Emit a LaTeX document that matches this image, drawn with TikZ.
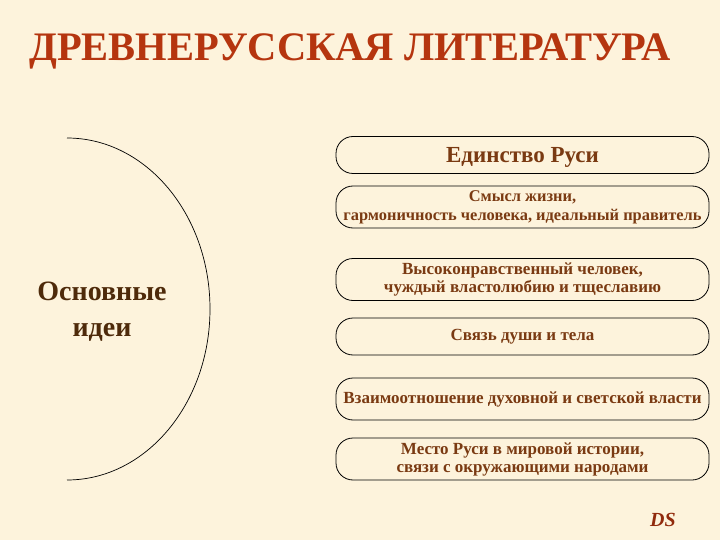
\documentclass[tikz,border=0pt]{standalone}
\usepackage{fontspec}
\setmainfont{Liberation Serif}
\usetikzlibrary{positioning}
\definecolor{paper}{HTML}{FDF3DC}
\definecolor{titlered}{HTML}{B5350F}
\definecolor{ideabrown}{HTML}{7A3A12}
\definecolor{mainbrown}{HTML}{4E2A0A}

\begin{document}
\begin{tikzpicture}[x=1pt,y=-1pt]
	\tikzset{
	  basic/.style      = {draw=black, line width=0.8pt, rounded corners=17pt, minimum width=373pt,
	                       inner xsep=0pt, inner ysep=1pt, align=center, text=ideabrown,
	                       font=\fontsize{17}{18}\selectfont\bfseries},
	  idea short/.style = {basic, minimum height=37pt},
	  idea tall/.style  = {basic, minimum height=42pt}
	}
	% the slide
	\fill[paper] (0,0) rectangle (720,540);
	\useasboundingbox (0,0) rectangle (720,540);

	\node[anchor=base west, inner sep=0pt, text=titlered,
	      font=\fontsize{40.5}{42}\selectfont\bfseries] (title) at (29,61)
	      {ДРЕВНЕРУССКАЯ ЛИТЕРАТУРА};

	% the half-ellipse with its caption
	\draw[line width=0.7pt] (67,138) arc[start angle=-90, end angle=90, x radius=143, y radius=171];
	\node[align=center, text=mainbrown,
	      font=\fontsize{28}{36}\selectfont\bfseries] (main) at (102,312) {Основные\\идеи};

	% the ideas, top to bottom
	\node[idea short, text depth=0pt, font=\fontsize{23}{26}\selectfont\bfseries] (unity) at (522.5,155) {Единство Руси};
	\node[idea tall, font=\fontsize{16.4}{19}\selectfont\bfseries] (sense) at (522.5,207) {Смысл жизни,\\гармоничность человека, идеальный правитель};
	\node[idea tall] (moral) at (522.5,279.5) {Высоконравственный человек,\\чуждый властолюбию и тщеславию};
	\node[idea short] (soul) at (522.5,336.5) {Связь души и тела};
	\node[idea tall] (power) at (522.5,399) {Взаимоотношение духовной и светской власти};
	\node[idea tall] (place) at (522.5,459) {Место Руси в мировой истории,\\связи с окружающими народами};

	\node[anchor=base, inner sep=0pt, text=titlered!80!black,
	      font=\fontsize{20}{22}\selectfont\bfseries\itshape] (sign) at (663,526) {DS};
\end{tikzpicture}
\end{document}
